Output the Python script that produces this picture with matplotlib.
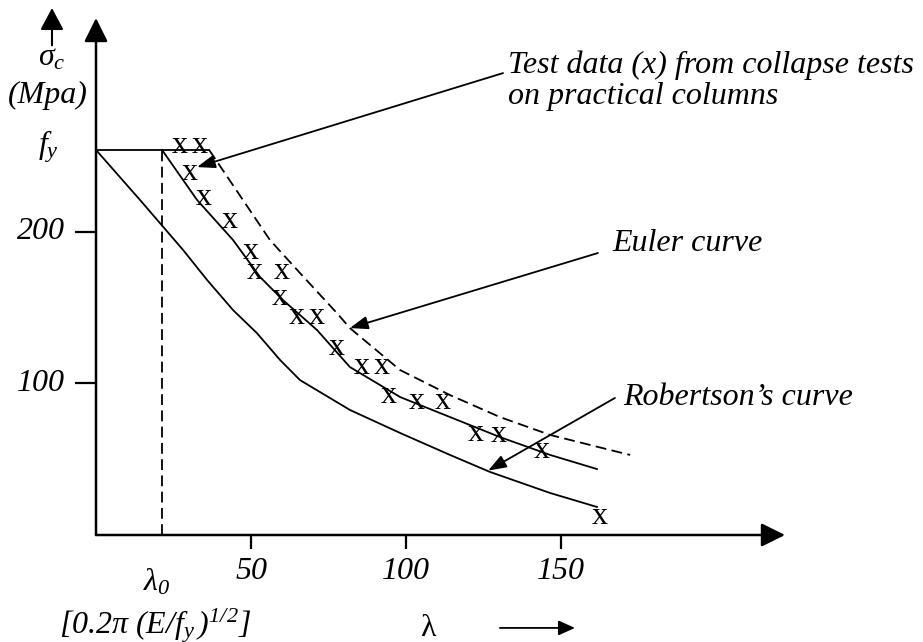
import matplotlib
matplotlib.use("Agg")
import matplotlib.pyplot as plt

plt.rcParams['font.family'] = ['Liberation Serif', 'DejaVu Serif']
plt.rcParams['mathtext.fontset'] = 'custom'
plt.rcParams['mathtext.rm'] = 'Liberation Serif:italic'
plt.rcParams['mathtext.it'] = 'Liberation Serif:italic'
plt.rcParams['mathtext.sf'] = 'Liberation Serif:italic'

# ---------------- data ----------------
fy = 254
lambda0 = 21.3
plateau_x = [0, 36.5]
plateau_y = [fy, fy]

robertson_x = [0, 14.2, 28.1, 35.8, 44.2, 51.9, 59.4, 65.8, 81.9, 98.1, 114.2, 127.1, 146.5, 161.6]
robertson_y = [254, 221, 188, 168.3, 148.4, 133.2, 115.4, 102.2, 82.5, 67.3, 52.8, 41.6, 27.7, 18.5]

middle_x = [21.3, 32.6, 44.2, 52.9, 60.3, 71.3, 81.9, 98.1, 114.2, 130.3, 146.5, 161.6]
middle_y = [254, 221, 194.6, 170.2, 155, 135.2, 110.8, 91, 77.8, 64.6, 52.8, 43.5]

euler_x = [36.5, 47.4, 56.1, 65.8, 77.7, 81.9, 98.1, 114.2, 130.3, 146.5, 165.8, 172.3]
euler_y = [254, 221, 194.6, 172.8, 146.4, 136.5, 108.8, 92.3, 77.8, 66, 56.1, 52.8]

test_x = [27.1, 33.5, 30.3, 34.8, 43.2, 50.0, 51.3, 60.0, 59.4, 64.8, 71.3, 77.7,
          85.8, 92.3, 94.5, 103.5, 111.9, 122.6, 130.0, 143.9, 162.6]
test_y = [259.2, 259.2, 241.4, 224.9, 209.8, 189.3, 176.1, 176.1, 159, 146.4, 146.4, 126,
          113.5, 113.5, 94.3, 90.4, 90.4, 69.3, 68.6, 58.0, 14.5]

x_ticks = [50, 100, 150]
x_tick_labels = ['50', '100', '150']
y_ticks = [100, 200]
y_tick_labels = ['100', '200']

# ---------------- figure ----------------
W, H = 923, 642
fig = plt.figure(figsize=(W / 100, H / 100), dpi=100)
x0px, y0px, xtip_px, ytip_px = 96, 535, 785, 18
ax = fig.add_axes([x0px / W, (H - y0px) / H, (xtip_px - x0px) / W, (y0px - ytip_px) / H])
XMAX = (xtip_px - x0px) / 3.1
YMAX = (y0px - ytip_px) / 1.516
ax.set_xlim(0, XMAX)
ax.set_ylim(0, YMAX)
for s in ax.spines.values():
    s.set_visible(False)
ax.patch.set_alpha(0)

FS = 23
lw_c = 1.3

# axes with arrows
axis_arrow = dict(arrowstyle='-|>,head_length=1.45,head_width=0.72', lw=1.8, color='black',
                  shrinkA=0, shrinkB=0, mutation_scale=10)
ax.annotate('', xy=(XMAX, 0), xytext=(0, 0), arrowprops=axis_arrow, annotation_clip=False)
ax.annotate('', xy=(0, YMAX), xytext=(0, 0), arrowprops=axis_arrow, annotation_clip=False)

# ticks
ax.set_xticks(x_ticks)
ax.set_yticks(y_ticks)
ax.set_xticklabels([])
ax.set_yticklabels([])
ax.tick_params(axis='x', direction='out', length=10, width=1.6)
ax.tick_params(axis='y', direction='out', length=15, width=1.6)
for xv, lab in zip(x_ticks, x_tick_labels):
    ax.text(xv, -24.4, lab, fontsize=FS, style='italic', ha='center', va='center')
for yv, lab in zip(y_ticks, y_tick_labels):
    ax.text(-10, yv, lab, fontsize=FS, style='italic', ha='right', va='center')

# curves
ax.plot(plateau_x, plateau_y, color='black', lw=lw_c, clip_on=False)
ax.plot([lambda0, lambda0], [0, fy], color='black', lw=lw_c, dashes=(6, 3))
ax.plot(robertson_x, robertson_y, color='black', lw=lw_c)
ax.plot(middle_x, middle_y, color='black', lw=lw_c)
ax.plot(euler_x, euler_y, color='black', lw=lw_c, dashes=(6, 3))

# test data markers (text glyph x)
for tx, ty in zip(test_x, test_y):
    ax.text(tx, ty, 'x', fontsize=FS, ha='center', va='center_baseline')

# labels
ax.text(-14.2, 314.6, r'$\sigma_c$', fontsize=FS, ha='center', va='center')
ax.text(-15.5, 290.2, '(Mpa)', fontsize=FS, style='italic', ha='center', va='center')
ax.text(-15.5, 256, r'$f_y$', fontsize=FS, ha='center', va='center')
ax.annotate('', xy=(-14.2, 347.6), xytext=(-14.2, 323), annotation_clip=False,
            arrowprops=dict(arrowstyle='-|>,head_length=1.35,head_width=0.72', lw=1.5,
                            color='black', shrinkA=0, shrinkB=0, mutation_scale=10))

ax.text(19.7, -31, r'$\lambda_0$', fontsize=FS, ha='center', va='center')
ax.text(19.0, -59.5, r'$[0.2\pi\ (E/f_y\,)^{1/2}]$', fontsize=FS, ha='center', va='center')
ax.text(107, -61.5, 'λ', fontsize=FS, ha='center', va='center')
ax.annotate('', xy=(154.5, -61.3), xytext=(130.3, -61.3), annotation_clip=False,
            arrowprops=dict(arrowstyle='-|>,head_length=1.0,head_width=0.45', lw=1.3,
                            color='black', shrinkA=0, shrinkB=0, mutation_scale=10))

ann_arrow = dict(arrowstyle='-|>,head_length=1.1,head_width=0.4', lw=1.3, color='black',
                 shrinkA=0, shrinkB=0, mutation_scale=10)
ax.text(132.9, 310, 'Test data (x) from collapse tests', fontsize=FS, style='italic',
        ha='left', va='center')
ax.text(132.9, 289, 'on practical columns', fontsize=FS, style='italic',
        ha='left', va='center')
ax.annotate('', xy=(32.6, 242.7), xytext=(131.3, 304.7), arrowprops=ann_arrow,
            annotation_clip=False)

ax.text(166.5, 192.6, 'Euler curve', fontsize=FS, style='italic', ha='left', va='center')
ax.annotate('', xy=(81.9, 136.5), xytext=(161.9, 186), arrowprops=ann_arrow,
            annotation_clip=False)

ax.text(170, 91, 'Robertson’s curve', fontsize=FS, style='italic', ha='left', va='center')
ax.annotate('', xy=(126.5, 42.5), xytext=(167.4, 90.4), arrowprops=ann_arrow,
            annotation_clip=False)

fig.savefig('out.png', dpi=100)
